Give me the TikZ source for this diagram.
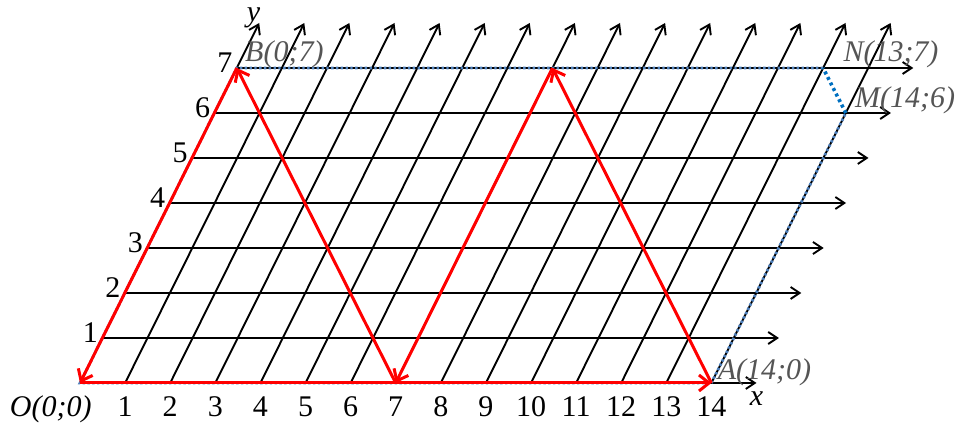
\documentclass[tikz,border=0pt]{standalone}
\usepackage{fontspec}
\setmainfont{Liberation Serif}
\usetikzlibrary{arrows.meta,positioning}

\definecolor{bndblue}{RGB}{79,129,189}
\definecolor{cutblue}{RGB}{0,112,192}
\definecolor{ptgray}{RGB}{85,85,85}

\begin{document}
\begin{tikzpicture}[
    x={(22.55pt,0pt)}, y={(11.2pt,22.5pt)},
    font=\fontsize{15}{18}\selectfont,
    gridarr/.style={-{Straight Barb[length=4.5pt,width=6pt]}, line width=0.95pt},
    bound/.style={draw=bndblue, line width=1.4pt, dash pattern=on 1.2pt off 1.2pt},
    cut/.style={draw=cutblue, line width=1.8pt, dash pattern=on 1.5pt off 1.6pt},
    path/.style={red, line width=1.5pt, -{Straight Barb[length=5pt,width=8pt]}},
    ptlbl/.style={ptgray, font=\fontsize{15}{18}\selectfont\itshape, inner sep=0pt, anchor=base west}
  ]
    \useasboundingbox (-40pt,-20pt) rectangle (443pt,191.5pt);
    % points of the region
    \coordinate (O) at (0,0);
    \coordinate (A) at (14,0);
    \coordinate (M) at (14,6);
    \coordinate (N) at (13,7);
    \coordinate (B) at (0,7);
    \coordinate (P) at (7,7);
    \coordinate (Q) at (7,0);
    \coordinate (xend) at (15,0);
    \coordinate (yend) at (0,8);
    % grid
    \foreach \j in {1,...,7}
      \draw[gridarr] (0,\j) -- (15,\j);
    \foreach \i in {1,...,14}
      \draw[gridarr] (\i,0) -- (\i,8);
    \draw[gridarr] (O) -- (xend);
    \draw[gridarr] (O) -- (yend);
    % tick labels
    \foreach \i in {1,...,14}
      \node[anchor=base, inner sep=0pt, yshift=-16.8pt] (tx\i) at (\i,0) {\i};
    \foreach \j in {1,...,7}
      \node[anchor=base east, inner sep=0pt, xshift=-2pt, yshift=-2.5pt] (ty\j) at (0,\j) {\j};
    \node[anchor=base, inner sep=0pt, yshift=-11.5pt] (xlbl) at (xend) {\textit{x}};
    \node[anchor=base, inner sep=0pt, xshift=-2.8pt, yshift=0.8pt] (ylbl) at (yend) {\textit{y}};
    % region boundary
    \draw[bound] (N) -- (B) -- (O) -- (A) -- (M);
    \draw[cut] (M) -- (N);
    % closed route
    \draw[path] (O) -- (A);
    \draw[path] (A) -- (P);
    \draw[path] (P) -- (Q);
    \draw[path] (Q) -- (B);
    \draw[path] (B) -- (O);
    % point labels
    \node[anchor=base east, inner sep=0pt, xshift=6pt, yshift=-16.8pt] (Olbl) at (O) {\textit{O(0;0)}};
    \node[ptlbl, xshift=3pt, yshift=1.5pt] (Albl) at (A) {A(14;0)};
    \node[ptlbl, xshift=4.5pt, yshift=2.5pt] (Mlbl) at (M) {M(14;6)};
    \node[ptlbl, xshift=10pt, yshift=3pt] (Nlbl) at (N) {N(13;7)};
    \node[ptlbl, xshift=4pt, yshift=3pt] (Blbl) at (B) {B(0;7)};
  \end{tikzpicture}
\end{document}
